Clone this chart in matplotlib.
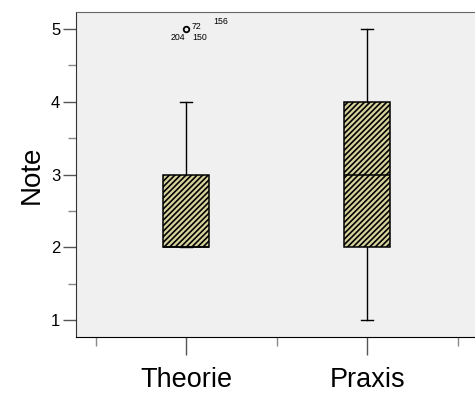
import matplotlib.pyplot as plt
import numpy as np

plt.rcParams['font.family'] = ['Liberation Sans', 'DejaVu Sans']
plt.rcParams['hatch.linewidth'] = 1.2

groups = ['Theorie', 'Praxis']
whislo = [2, 1]
q1 = [2, 2]
med = [2, 3]
q3 = [3, 4]
whishi = [4, 5]
fliers = [[5], []]
flier_ids = ['72', '204', '150', '156']

stats = []
for i in range(len(groups)):
    stats.append(dict(label=groups[i], whislo=whislo[i], q1=q1[i], med=med[i],
                      q3=q3[i], whishi=whishi[i], fliers=fliers[i]))

fig = plt.figure(figsize=(4.75, 3.93), dpi=100)
ax = fig.add_axes([76/475, 1 - 337/393, 1 - 76/475, (337 - 12)/393])
ax.set_facecolor('#f0f0f0')

bp = ax.bxp(stats, positions=[1, 2], widths=0.254, patch_artist=True,
            showcaps=True,
            boxprops=dict(facecolor='#d6d29c', edgecolor='black', linewidth=1.1, hatch='//////'),
            medianprops=dict(color='black', linewidth=1.1),
            whiskerprops=dict(color='black', linewidth=1.0),
            capprops=dict(color='black', linewidth=1.0),
            flierprops=dict(marker='o', markersize=4, markerfacecolor='none',
                            markeredgecolor='black', markeredgewidth=1.3))
for c in bp['caps']:
    x = c.get_xdata()
    m = x.mean()
    c.set_xdata([m - 0.033, m + 0.033])

# outlier case labels
ox, oy = 1, fliers[0][0]
offsets = [(4, 1.5), (-11.5, -6.5), (4, -6.5), (19.5, 5)]
for lab, off in zip(flier_ids, offsets):
    ax.annotate(lab, (ox, oy), xytext=off, textcoords='offset points',
                fontsize=6.3, va='center', ha='left')

ax.set_xlim(0.391, 0.391 + (475 - 76) / 181)
ax.set_ylim(0.77, 5.23)
ax.set_yticks([1, 2, 3, 4, 5])
ax.set_yticks([1.5, 2.5, 3.5, 4.5], minor=True)
ax.set_xticks([1, 2])
ax.set_xticklabels(groups, fontsize=19.5)
ax.set_xticks([0.5, 1.5, 2.5], minor=True)
ax.tick_params(axis='y', labelsize=12, length=9.4, width=1, color='#555555', pad=2)
ax.tick_params(axis='y', which='minor', length=6, width=1, color='#888888')
ax.tick_params(axis='x', length=13, width=1, color='#555555', pad=8.5)
ax.tick_params(axis='x', which='minor', length=6.5, width=1, color='#888888')
ax.set_ylabel('Note', fontsize=20, labelpad=4)

ax.spines['right'].set_visible(False)
ax.spines['top'].set_color('#666666')
ax.spines['left'].set_color('#333333')
ax.spines['bottom'].set_color('black')

fig.savefig('out.png', dpi=100)
